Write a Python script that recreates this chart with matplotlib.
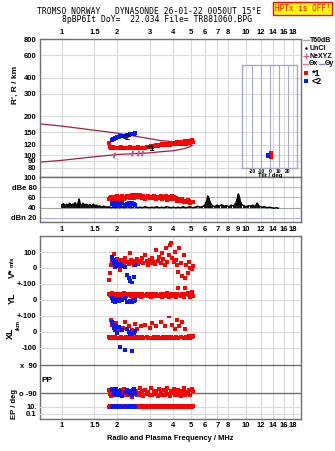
import matplotlib
matplotlib.use("Agg")
import matplotlib.pyplot as plt
from matplotlib.lines import Line2D
from matplotlib.ticker import NullLocator, FixedLocator, FixedFormatter

# ---------------------------------------------------------------- data
freq_grid = [1, 1.5, 2, 3, 4, 5, 6, 7, 8, 10, 12, 14, 16, 18]
freq_labels = ["1", "1.5", "2", "3", "4", "5", "6", "7", "8", "10", "12", "14", "16", "18"]
freq_grid_mid = [1, 1.5, 2, 3, 4, 5, 6, 7, 8, 9, 10, 12, 14, 16, 18]
freq_labels_mid = ["1", "1.5", "2", "3", "4", "5", "6", "7", "8", "9", "10", "12", "14", "16", "18"]
range_ticks = [80, 90, 100, 120, 150, 200, 300, 400, 600, 800]

# ordinary-mode echoes (*1)
o_freq = [1.80, 1.82, 1.84, 1.86, 1.88, 1.90, 1.92, 1.94, 1.96, 1.98, 2.00,
          2.03, 2.06, 2.09, 2.12, 2.15, 2.18, 2.21, 2.24, 2.27, 2.30, 2.33, 2.36, 2.39, 2.42, 2.45, 2.48,
          2.52, 2.56, 2.60, 2.64, 2.68, 2.72, 2.76,
          2.82, 2.88, 2.94, 3.00,
          3.05, 3.10, 3.15, 3.20,
          3.26, 3.32, 3.38, 3.44, 3.50, 3.56, 3.62, 3.68, 3.74, 3.80, 3.86, 3.92, 3.98, 4.04, 4.10, 4.16, 4.22, 4.28,
          4.35, 4.42, 4.50, 4.58, 4.66, 4.74, 4.82, 4.90, 4.98, 5.06, 5.15]
o_range = [124, 115, 114, 114, 114, 115, 114, 114, 113, 114, 114,
           114, 114, 115, 114, 114, 114, 113, 114, 114, 114, 115, 114, 114, 114, 113, 114,
           114, 114, 115, 114, 114, 113, 114,
           114, 115, 116, 116,
           117, 116, 118, 117,
           119, 118, 120, 119, 121, 119, 122, 120, 123, 121, 120, 124, 122, 125, 121, 123, 126, 122,
           124, 127, 122, 125, 128, 123, 126, 129, 125, 131, 127]
o_amp = [56, 58, 60, 57, 55, 59, 61, 57, 60, 62, 58,
         55, 57, 60, 62, 58, 56, 59, 61, 63, 60, 58, 62, 64, 61, 59, 63,
         65, 62, 60, 64, 61, 58, 63,
         57, 60, 62, 59,
         61, 58, 62, 60,
         57, 61, 59, 63, 56, 60, 58, 62, 55, 59, 61, 57, 63, 60, 56, 58, 54, 57,
         55, 53, 56, 52, 54, 51, 55, 53, 50, 52, 51]
o_vstar = [-75, -30, 20, 35, 45, 30, 90, 40, 25, 55, 10,
           35, -10, 50, 30, 45, 20, 60, 35, 40, 25, 95, 50, 30, 45, 20, 35,
           40, 55, 25, 45, 35, 60, 30,
           80, 45, 20, 50,
           30, 60, 40, 25,
           110, 45, 70, 30, 95, 55, 20, 125, 40, 80, 145, 155, 60, 35, 100, 50, 20, -25,
           125, 30, -50, 80, -60, 20, -30, 40, 0, -5, 15]
o_yl = [40, 30, 25, 45, 35, 20, 30, 40, 25, 35, 30,
        25, 35, 40, 30, 20, 45, 35, 25, 30, 40, 35, 25, 30, 20, 35, 30,
        40, 25, 35, 30, 20, 35, 25,
        30, 40, 25, 35,
        20, 30, 40, 25,
        35, 25, 30, 40, 20, 35, 25, 30, 45, 20, 30, 35, 25, 40, 30, 20, 35, 75,
        30, 25, 40, 20, 75, 35, 45, 30, 20, 50, 25]
o_xl = [-30, -35, 75, -30, 45, -35, 30, -30, 55, -40, 20,
        -35, 10, -30, -40, 25, -35, 60, -30, -35, 40, -30, -40, 15, -35, -30, 50,
        -35, 20, -30, -40, 35, -30, -35,
        45, -30, -40, 25,
        -35, 55, -30, -35,
        40, -30, -35, 60, -40, -30, 35, -35, -30, 100, -40, -30, 45, -35, 20, -30, 75, -35,
        40, -30, 65, -35, 20, -30, -40, -25, -35, -30, -25]
o_pp = [-70, -95, -110, -80, -65, -100, -90, -75, -105, -85, -95,
        -80, -100, -70, -110, -90, -65, -95, -105, -80, -75, -100, -90, -115, -70, -85, -95,
        -75, -105, -90, -60, -100, -80, -110,
        -70, -95, -85, -105,
        -60, -100, -80, -95,
        -75, -110, -65, -90, -100, -70, -105, -85, -60, -95, -110, -75, -90, -65, -100, -80, -105, -70,
        -90, -110, -75, -60, -100, -85, -95, -70, -105, -65, -80]
o_ep = [12, 15, 10, 18, 14, 11, 16, 13, 20, 12, 15,
        11, 14, 17, 12, 10, 15, 13, 18, 11, 14, 16, 12, 10, 13, 15, 11,
        14, 12, 17, 10, 13, 15, 11,
        16, 12, 14, 10,
        13, 18, 11, 15,
        12, 14, 10, 16, 13, 11, 15, 12, 18, 10, 14, 13, 11, 16, 12, 15, 10, 13,
        14, 11, 16, 12, 10, 15, 13, 11, 17, 12, 14]

# extraordinary-mode echoes (<2)
x_freq = [1.88, 1.90, 1.92, 1.94, 1.96, 1.99, 2.03, 2.08, 2.13, 2.19, 2.25, 2.30, 2.35, 2.40, 2.45, 2.50]
x_range = [132, 133, 134, 136, 136, 138, 139, 140, 141, 141, 143, 144, 145, 146, 147, 148]
x_amp = [47, 49, 45, 48, 50, 46, 44, 47, 49, 45, 48, 50, 46, 49, 47, 45]
x_vstar = [70, 50, 30, 5, 40, 15, 12, 25, 10, 5, -45, -62, -80, -95, -55, 20]
x_yl = [10, -5, 5, -12, 8, 0, -8, 5, -3, 10, -10, -12, -8, -15, -5, 0]
x_xl = [62, 44, 25, 10, 35, -6, 30, -95, 15, -110, 19, 0, -12, -120, -5, 8]
x_pp = [-70, -95, -80, -105, -65, -90, -100, -75, -110, -85, -70, -95, -80, -100, -65, -90]
x_ep = [12, 15, 10, 14, 11, 13, 16, 12, 10, 14, 13, 11, 15, 12, 14, 10]

# echo tilt (deg) vs range
o_tilt = [1, 1, 1]
o_tilt_range = [97, 101, 104]
x_tilt = [-2, -2]
x_tilt_range = [98, 100]

# NeXYZ points
ne_freq = [1.92, 2.40, 2.58, 2.72]
ne_range = [101, 103, 103, 104]

# model boundary curves
bound_freq = [0.755, 1.0, 1.5, 2.0, 3.0, 3.4, 4.0, 4.6, 4.9, 5.1]
bound_upper = [175, 168, 156, 148, 134, 130, 127, 123, 121, 119]
bound_lower = [88, 91, 97, 101, 104, 106, 108, 112, 115, 119]

# noise level (dB)
noise_freq = [1.00, 1.02, 1.04, 1.06, 1.08, 1.10, 1.12, 1.14, 1.16, 1.18,
              1.20, 1.22, 1.24, 1.26, 1.28, 1.30, 1.33, 1.36, 1.39, 1.42,
              1.45, 1.48, 1.51, 1.54, 1.57, 1.60, 1.64, 1.68, 1.72, 1.76,
              1.80, 1.85, 1.90, 1.95, 2.00, 2.06, 2.12, 2.18, 2.24, 2.30,
              2.37, 2.44, 2.51, 2.58, 2.66, 2.74, 2.82, 2.90, 2.99, 3.08,
              3.17, 3.27, 3.37, 3.47, 3.58, 3.69, 3.80, 3.92, 4.04, 4.16,
              4.29, 4.42, 4.55, 4.69, 4.83, 4.98, 5.13, 5.29, 5.45, 5.62,
              5.79, 5.97, 6.10, 6.20, 6.30, 6.40, 6.55, 6.75, 6.95, 7.16,
              7.38, 7.60, 7.83, 8.07, 8.31, 8.56, 8.82, 9.00, 9.10, 9.20,
              9.30, 9.45, 9.70, 10.0, 10.3, 10.6, 10.9, 11.2, 11.5, 11.8,
              12.2, 12.6, 13.0, 13.4, 13.8, 14.2, 14.6, 15.0]
noise_db = [46, 48, 44, 47, 45, 49, 44, 47, 46, 50,
            45, 48, 57, 47, 44, 49, 45, 47, 44, 46,
            43, 47, 44, 45, 42, 44, 41, 43, 42, 41,
            42, 40, 41, 40, 41, 40, 42, 40, 41, 42,
            40, 41, 43, 40, 41, 40, 42, 41, 40, 41,
            40, 42, 40, 41, 40, 42, 41, 40, 41, 40,
            41, 40, 42, 40, 41, 42, 40, 41, 43, 41,
            42, 45, 52, 63, 58, 50, 44, 42, 45, 43,
            46, 43, 44, 42, 45, 43, 50, 60, 67, 62,
            54, 47, 44, 42, 44, 43, 45, 42, 49, 43,
            41, 42, 40, 41, 40, 39, 40, 39]

# ---------------------------------------------------------------- layout
W, H = 335, 451
F_LO, F_HI = 0.755, 19.9
RED, BLUE = "#ff0000", "#0018ff"
FRAME = "#707070"
GRID = "#d9d9d9"
FONT = "Liberation Sans"
TS = 5.5

fig = plt.figure(figsize=(W / 100, H / 100), dpi=100)


def box(x0, y0, x1, y1):
    return [x0 / W, 1 - y1 / H, (x1 - x0) / W, (y1 - y0) / H]


def freq_axes(rect, frame=True):
    ax = fig.add_axes(rect)
    ax.set_xscale("log")
    ax.set_xlim(F_LO, F_HI)
    ax.xaxis.set_minor_locator(NullLocator())
    ax.yaxis.set_minor_locator(NullLocator())
    ax.tick_params(length=0, pad=2, labelsize=TS)
    for s in ax.spines.values():
        s.set_visible(frame)
        s.set_color(FRAME)
        s.set_linewidth(1)
    if not frame:
        ax.patch.set_alpha(0)
    ax.set_xticks([])
    return ax


def set_yticks(ax, ticks, labels):
    ax.yaxis.set_major_locator(FixedLocator(ticks))
    ax.yaxis.set_major_formatter(FixedFormatter(labels))
    for t in ax.get_yticklabels():
        t.set_fontfamily(FONT)
        t.set_fontweight("bold")
        t.set_fontsize(TS)


def set_xticks(ax, ticks, labels, top=False, pad=2):
    ax.xaxis.set_major_locator(FixedLocator(ticks))
    ax.xaxis.set_major_formatter(FixedFormatter(labels))
    if top:
        ax.xaxis.set_ticks_position("top")
    ax.tick_params(axis="x", pad=pad)
    for t in ax.get_xticklabels():
        t.set_fontfamily(FONT)
        t.set_fontweight("bold")
        t.set_fontsize(TS)


def vgrid(ax):
    for f in freq_grid:
        ax.axvline(f, color=GRID, lw=0.8, zorder=0)


def hgrid(ax, values, color=GRID, lw=0.8):
    for v in values:
        ax.axhline(v, color=color, lw=lw, zorder=0)


sq = dict(marker="s", ls="none", markersize=2.2, markeredgewidth=0)

# ---- virtual range panel
ax_h = freq_axes(box(39.5, 39, 301, 177))
ax_h.set_yscale("log")
ax_h.set_ylim(67.5, 800)
ax_h.yaxis.set_minor_locator(NullLocator())
set_yticks(ax_h, range_ticks, [str(v) for v in range_ticks])
set_xticks(ax_h, freq_grid, freq_labels, top=True, pad=2)
ax_h.tick_params(length=0)
vgrid(ax_h)
hgrid(ax_h, range_ticks)
ax_h.plot(bound_freq, bound_upper, color="#a3203f", lw=0.9, zorder=2)
ax_h.plot(bound_freq, bound_lower, color="#a3203f", lw=0.9, zorder=2)
ax_h.plot(ne_freq, ne_range, ls="none", marker="$I$", markersize=3.2,
          color="#e0508a", zorder=3)
ax_h.plot(o_freq, o_range, color=RED, zorder=4, **sq)
ax_h.plot(x_freq, x_range, color=BLUE, zorder=5, **sq)
ax_h.text(3.04, 113, "*1", fontsize=6.5, fontweight="bold", family=FONT,
          ha="center", va="center", zorder=6)
ax_h.text(2.23, 136, "<2", fontsize=6.5, fontweight="bold", family=FONT,
          ha="center", va="center", zorder=6)

# ---- tilt inset
ax_t = fig.add_axes(box(242, 65, 297, 168))
ax_t.patch.set_alpha(0)
ax_t.set_xlim(-31.1, 30)
ax_t.set_yscale("log")
ax_t.set_ylim(79, 502)
ax_t.yaxis.set_major_locator(NullLocator())
ax_t.yaxis.set_minor_locator(NullLocator())
for s in ax_t.spines.values():
    s.set_color("#a8a8c8")
    s.set_linewidth(1)
for v in [-20, -10, 0, 10, 20]:
    ax_t.axvline(v, color="#a8a8c8", lw=0.8, zorder=0)
ax_t.set_xticks([-20, -10, 0, 10, 20])
ax_t.set_xticklabels(["-20", "-10", "0", "10", "20"])
ax_t.tick_params(length=0, pad=0.5, labelsize=3.6)
for t in ax_t.get_xticklabels():
    t.set_fontfamily(FONT)
    t.set_fontweight("bold")
ax_t.plot(o_tilt, o_tilt_range, color=RED, **sq)
ax_t.plot(x_tilt, x_tilt_range, color=BLUE, **sq)
fig.text(270 / W, 1 - 175.5 / H, "Tilt / deg", fontsize=4.3, fontweight="bold",
         family=FONT, ha="center", va="center")

# ---- amplitude panel
ax_db = freq_axes(box(39.5, 177, 301, 222))
ax_db.set_ylim(12, 100)
set_yticks(ax_db, [20, 40, 60, 80, 100], ["dBn 20", "40", "60", "dBe 80", "100"])
set_xticks(ax_db, freq_grid_mid, freq_labels_mid, pad=3)
vgrid(ax_db)
hgrid(ax_db, [60, 80], color="#bdbdbd")
hgrid(ax_db, [40], color="#a0a0a0")
hgrid(ax_db, [20], color="#b4b4ec")
ax_db.vlines(noise_freq, 39, noise_db, color="black", lw=1.3, zorder=3)
ax_db.plot(noise_freq, noise_db, color="black", lw=1.0, zorder=3)
ax_db.plot(o_freq, o_amp, color=RED, zorder=4, **sq)
ax_db.plot(x_freq, x_amp, color=BLUE, zorder=5, **sq)

# ---- lower frame
ax_low = freq_axes(box(39.5, 236, 301, 419))
ax_low.set_yticks([])
set_xticks(ax_low, freq_grid, freq_labels, pad=2.5)
vgrid(ax_low)

bands = [
    ("v", 236, 284, (-100, 200), [0, 100], ["0", "100"], "lin"),
    ("yl", 284, 316, (-100, 100), [100, 0], ["+-100", "0"], "lin"),
    ("xl", 316, 356, (-150, 100), [100, 0, -100], ["+-100", "0", "-100"], "lin"),
    ("pp", 356, 400, (-135, 148), [90, -90], ["x  90", "o -90"], "lin"),
    ("ep", 400, 419, (0.0037, 1000), [10, 0.1], ["10.", "0.1"], "log"),
]
sub = {}
for key, y0, y1, lim, ticks, labels, scale in bands:
    a = freq_axes(box(39.5, y0, 301, y1), frame=False)
    if scale == "log":
        a.set_yscale("log")
        a.yaxis.set_minor_locator(NullLocator())
    a.set_ylim(*lim)
    set_yticks(a, ticks, labels)
    sub[key] = a

hgrid(sub["v"], [0, 100])
hgrid(sub["yl"], [100, 0])
hgrid(sub["xl"], [100, 0, -100])
hgrid(sub["pp"], [90, -90], color="#6e6e6e", lw=1)
hgrid(sub["ep"], [10, 0.1])

for key, ov, xv in [("v", o_vstar, x_vstar), ("yl", o_yl, x_yl), ("xl", o_xl, x_xl),
                    ("pp", o_pp, x_pp), ("ep", o_ep, x_ep)]:
    sub[key].plot(o_freq, ov, color=RED, zorder=4, **sq)
    sub[key].plot(x_freq, xv, color=BLUE, zorder=5, **sq)

# ---- axis titles
lab = dict(family=FONT, fontweight="bold", ha="center", va="center")
fig.text(15 / W, 1 - 85 / H, "R', R / km", rotation=90, fontsize=6, **lab)
fig.text(12 / W, 1 - 273 / H, "V*", rotation=90, fontsize=6.5, **lab)
fig.text(12 / W, 1 - 262 / H, "m/s", rotation=90, fontsize=4.3, **lab)
fig.text(12 / W, 1 - 298 / H, "YL", rotation=90, fontsize=6.5, **lab)
fig.text(10 / W, 1 - 333 / H, "XL", rotation=90, fontsize=6.5, **lab)
fig.text(18 / W, 1 - 325 / H, "/km", rotation=90, fontsize=4.2, **lab)
fig.text(47 / W, 1 - 380 / H, "PP", fontsize=6, **lab)
fig.text(14 / W, 1 - 404 / H, "EP / deg", rotation=90, fontsize=5.5, **lab)
fig.text(170 / W, 1 - 439 / H, "Radio and Plasma Frequency / MHz", fontsize=5.4, **lab)

# ---- header
mono = dict(family="DejaVu Sans Mono", fontsize=5.8, ha="center", va="center")
fig.text(149 / W, 1 - 12 / H, "TROMSO NORWAY   DYNASONDE 26-01-22 0050UT 15°E", **mono)
fig.text(157 / W, 1 - 20 / H, "8pBP6It DoY=  22.034 File= TR881060.BPG", **mono)
fig.text(302.5 / W, 1 - 8.5 / H, "HPTx is OFF!", color="red",
         family="DejaVu Sans Mono", fontsize=5.6, ha="center", va="center",
         bbox=dict(facecolor="#ffff00", edgecolor="red", linewidth=1, pad=1.5))


# ---- legend
def fx(x):
    return x / W


def fy(y):
    return 1 - y / H


leg = dict(family=FONT, fontweight="bold", fontsize=5, ha="left", va="center")
fig.add_artist(Line2D([fx(303), fx(309)], [fy(40), fy(40)], color="#a8a8a8", lw=1))
fig.text(fx(310), fy(40), "T60dB", **leg)
fig.add_artist(Line2D([fx(306)], [fy(48)], marker=".", markersize=1.5, color="black", ls="none"))
fig.text(fx(310), fy(48), "UnCl", **leg)
fig.add_artist(Line2D([fx(305.5)], [fy(56)], marker="+", markersize=4, mew=0.8,
                      color="#e0508a", ls="none"))
fig.text(fx(310), fy(56), "NeXYZ", **leg)
fig.add_artist(Line2D([fx(303), fx(308)], [fy(63.5), fy(63.5)], color="#f08080", lw=1))
fig.text(fx(308.5), fy(63.5), "Θx", **leg)
fig.add_artist(Line2D([fx(319), fx(324)], [fy(63.5), fy(63.5)], color="#8080f0", lw=1))
fig.text(fx(324.5), fy(63.5), "Θy", **leg)
fig.add_artist(Line2D([fx(306)], [fy(73)], marker="s", markersize=2.2, mew=0,
                      color=RED, ls="none"))
fig.text(fx(312), fy(73), "*1", family=FONT, fontweight="bold", fontsize=6.5,
         ha="left", va="center")
fig.add_artist(Line2D([fx(306)], [fy(81)], marker="s", markersize=2.2, mew=0,
                      color=BLUE, ls="none"))
fig.text(fx(312), fy(81), "<2", family=FONT, fontweight="bold", fontsize=6.5,
         ha="left", va="center")

fig.savefig("out.png", dpi=100)
